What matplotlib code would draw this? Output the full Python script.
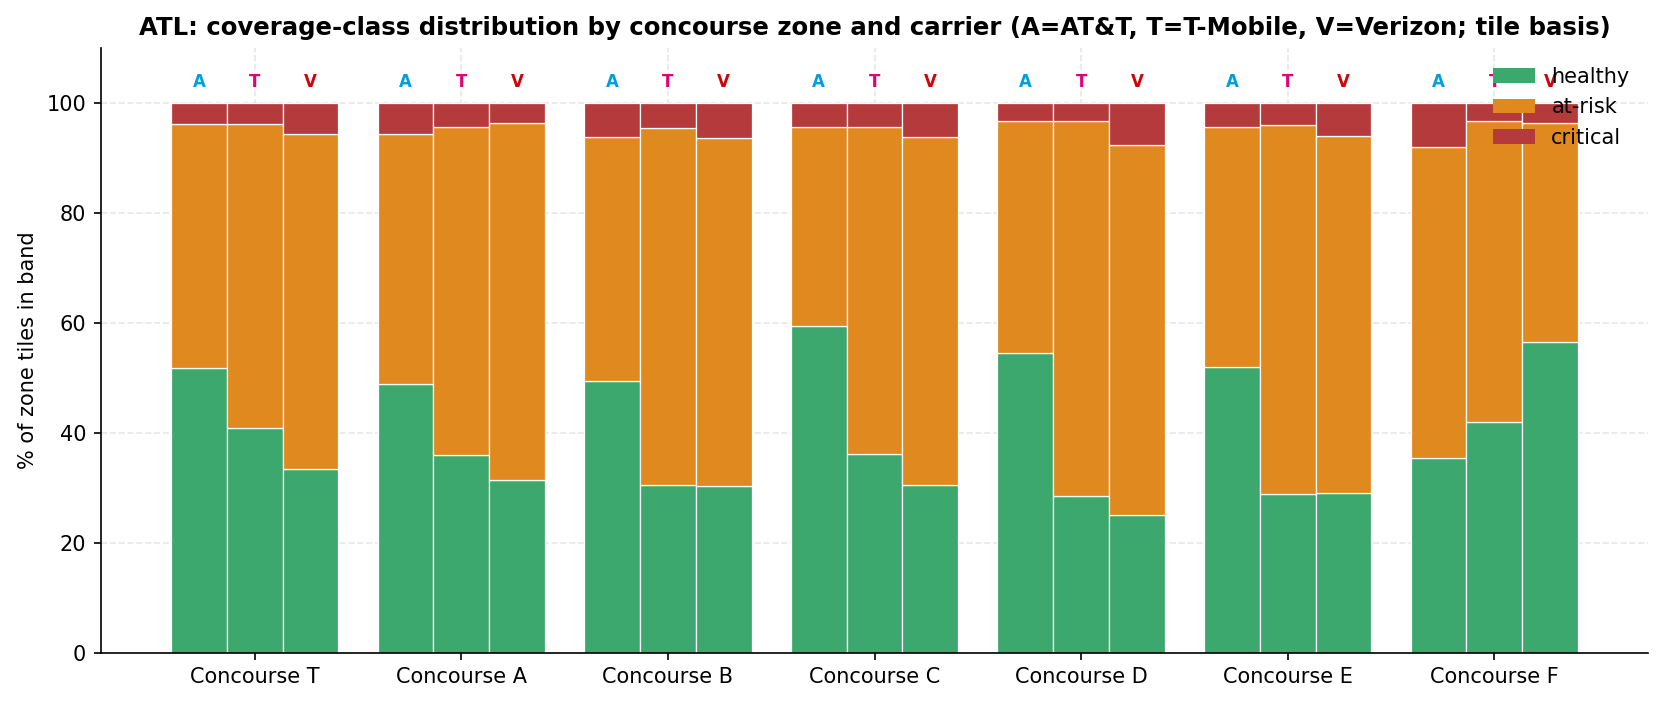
import matplotlib
matplotlib.use("Agg")
import matplotlib.pyplot as plt
import numpy as np

zones = ["Concourse T", "Concourse A", "Concourse B", "Concourse C",
         "Concourse D", "Concourse E", "Concourse F"]
carriers = ["A", "T", "V"]
carrier_colors = ["#009fdb", "#e20074", "#cd040b"]

# % healthy per zone, per carrier (A, T, V)
healthy = {
    "A": [51.8, 48.8, 49.4, 59.4, 54.5, 51.9, 35.4],
    "T": [40.8, 35.9, 30.6, 36.1, 28.6, 28.8, 41.9],
    "V": [33.4, 31.4, 30.3, 30.5, 25.0, 29.0, 56.6],
}
# % at-risk per zone, per carrier
at_risk = {
    "A": [44.3, 45.5, 44.4, 36.2, 42.3, 43.8, 56.5],
    "T": [55.3, 59.8, 64.8, 59.6, 68.1, 67.1, 54.8],
    "V": [60.9, 64.9, 63.3, 63.3, 67.3, 64.9, 39.8],
}
# % critical per zone, per carrier
critical = {
    "A": [3.9, 5.7, 6.2, 4.4, 3.2, 4.3, 8.1],
    "T": [3.9, 4.3, 4.6, 4.3, 3.3, 4.1, 3.3],
    "V": [5.7, 3.7, 6.4, 6.2, 7.7, 6.1, 3.6],
}

band_colors = {"healthy": "#3da86d", "at-risk": "#e0891e", "critical": "#b53a3c"}

fig, ax = plt.subplots(figsize=(11.1, 4.7), dpi=150)

x = np.arange(len(zones))
width = 0.27
offsets = [-width, 0, width]

for i, c in enumerate(carriers):
    xs = x + offsets[i]
    h = np.array(healthy[c])
    r = np.array(at_risk[c])
    k = np.array(critical[c])
    ax.bar(xs, h, width, color=band_colors["healthy"], edgecolor="white", linewidth=0.6,
           label="healthy" if i == 0 else None, zorder=2)
    ax.bar(xs, r, width, bottom=h, color=band_colors["at-risk"], edgecolor="white", linewidth=0.6,
           label="at-risk" if i == 0 else None, zorder=2)
    ax.bar(xs, k, width, bottom=h + r, color=band_colors["critical"], edgecolor="white", linewidth=0.6,
           label="critical" if i == 0 else None, zorder=2)
    for xi in xs:
        ax.text(xi, 102.2, c, ha="center", va="bottom", fontsize=8, fontweight="bold",
                color=carrier_colors[i], zorder=3)

ax.set_xticks(x)
ax.set_xticklabels(zones)
ax.set_ylim(0, 110)
ax.set_ylabel("% of zone tiles in band")
ax.set_title("ATL: coverage-class distribution by concourse zone and carrier "
             "(A=AT&T, T=T-Mobile, V=Verizon; tile basis)", fontweight="bold", fontsize=11.7)
ax.grid(True, linestyle="--", alpha=0.3, zorder=0)
ax.set_axisbelow(True)
ax.spines["top"].set_visible(False)
ax.spines["right"].set_visible(False)
leg = ax.legend(loc="upper right", frameon=False, fontsize=10)
for p in leg.get_patches():
    p.set_edgecolor("none")

fig.subplots_adjust(left=0.0605, right=0.99, bottom=0.074, top=0.932)
plt.savefig("out.png", dpi=150)
plt.close()
